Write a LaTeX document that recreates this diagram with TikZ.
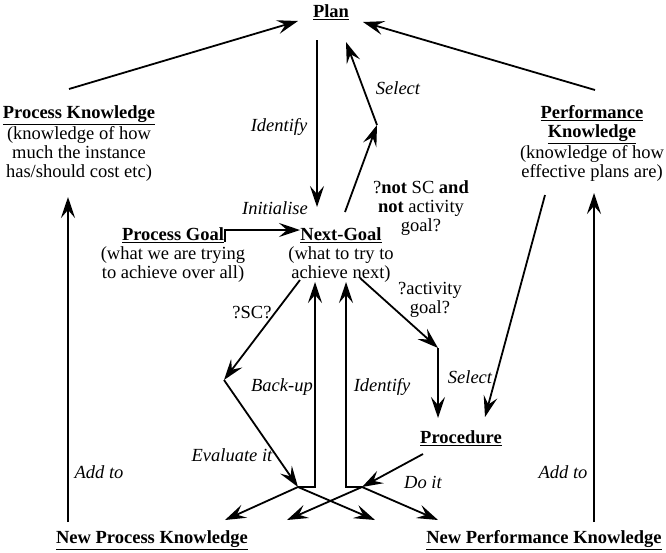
\documentclass[tikz,border=0pt]{standalone}
\usepackage{fontspec}
\setmainfont{Liberation Serif}
\usetikzlibrary{arrows.meta}
\newcommand{\headtext}[1]{\underline{\textbf{#1}}}
\tikzset{
    font = \fontsize{18.5}{19}\selectfont,
    every node/.style = {
        inner sep = 0pt,
        outer sep = 0pt
    },
    box/.style = {
        align = center
    },
    tag/.style = {
        font = \fontsize{18.5}{19}\selectfont\itshape
    },
    flow/.style = {
        ->,
        > = {Stealth[length=21pt, width=14pt, inset=8pt]},
        line width = 1.8pt
    }
}

\begin{document}
\begin{tikzpicture}[
        x = 1pt,
        y = -1pt
    ]{
        \useasboundingbox (0,0) rectangle (666,552);
        % knowledge and goals
        \node (plan) at (331,12) {\headtext{Plan}};
        \node [box] (prock) at (79,143.5) {\headtext{Process Knowledge}\\(knowledge of how\\much the instance\\has/should cost etc)};
        \node [box] (perfk) at (592,143.5) {\headtext{Performance}\\\headtext{Knowledge}\\(knowledge of how\\effective plans are)};
        \node [box] (pgoal) at (173,255.5) {\headtext{Process Goal}\\(what we are trying\\to achieve over all)};
        \node [box] (ngoal) at (341,255.5) {\headtext{Next-Goal}\\(what to try to\\achieve next)};
        \node (proc) at (461,438) {\headtext{Procedure}};
        \node (nprock) at (152,540) {\headtext{New Process Knowledge}};
        \node (nperfk) at (544,540) {\headtext{New Performance Knowledge}};
        % tests
        \node [box] (notsc) at (421,208) {?\textbf{not} SC \textbf{and}\\\textbf{not} activity\\goal?};
        \node (sctest) at (252,312) {?SC?};
        \node [box] (acttest) at (430,300) {?activity\\goal?};
        % actions
        \node [tag] (identa) at (279,127) {Identify};
        \node [tag] (selecta) at (398,88) {Select};
        \node [tag] (init) at (275,208) {Initialise};
        \node [tag] (backup) at (282,387) {Back-up};
        \node [tag] (identb) at (382,387) {Identify};
        \node [tag] (selectb) at (470,377) {Select};
        \node [tag] (evalit) at (232,455) {Evaluate it};
        \node [tag] (doit) at (423,482) {Do it};
        \node [tag] (adda) at (99,472) {Add to};
        \node [tag] (addb) at (563,472) {Add to};
        % connector ends
        \coordinate (pk-out) at (69,89);
        \coordinate (pk-in) at (68,197);
        \coordinate (fk-out) at (595,90);
        \coordinate (fk-in) at (594,193);
        \coordinate (fk-down) at (545,195);
        \coordinate (plan-l) at (298,21);
        \coordinate (plan-r) at (363,22);
        \coordinate (plan-out) at (317,40);
        \coordinate (plan-in) at (346,42);
        \coordinate (ng-top) at (317,207);
        \coordinate (ng-up) at (345,212);
        \coordinate (sel-bend) at (377,125);
        \coordinate (pg-out) at (225,242);
        \coordinate (ng-left) at (300,230);
        \coordinate (ng-sc) at (300,280);
        \coordinate (sc-bend) at (224,380);
        \coordinate (ng-act) at (360,278);
        \coordinate (act-bend) at (438,348);
        \coordinate (proc-top) at (438,418);
        \coordinate (proc-in) at (485,417);
        \coordinate (proc-out) at (423,454);
        \coordinate (eval) at (298,487);
        \coordinate (do) at (362,487);
        \coordinate (back-in) at (315,282);
        \coordinate (ident-in) at (346,282);
        \coordinate (npk-a) at (225,520);
        \coordinate (npk-b) at (287,520);
        \coordinate (nfk-a) at (375,520);
        \coordinate (nfk-b) at (438,520);
        \coordinate (npk-up) at (68,522);
        \coordinate (nfk-up) at (594,522);
        % connectors
        \draw [flow] (pk-out) -- (plan-l);
        \draw [flow] (fk-out) -- (plan-r);
        \draw [flow] (plan-out) -- (ng-top);
        \draw [flow] (ng-up) -- (sel-bend);
        \draw [flow] (sel-bend) -- (plan-in);
        \draw [flow] (pg-out) |- (ng-left);
        \draw [flow] (ng-sc) -- (sc-bend);
        \draw [flow] (sc-bend) -- (eval);
        \draw [flow] (eval) -| (back-in);
        \draw [flow] (do) -| (ident-in);
        \draw [flow] (ng-act) -- (act-bend);
        \draw [flow] (act-bend) -- (proc-top);
        \draw [flow] (fk-down) -- (proc-in);
        \draw [flow] (proc-out) -- (do);
        \draw [flow] (eval) -- (npk-a);
        \draw [flow] (eval) -- (nfk-a);
        \draw [flow] (do) -- (npk-b);
        \draw [flow] (do) -- (nfk-b);
        \draw [flow] (npk-up) -- (pk-in);
        \draw [flow] (nfk-up) -- (fk-in);
    }
\end{tikzpicture}
\end{document}
